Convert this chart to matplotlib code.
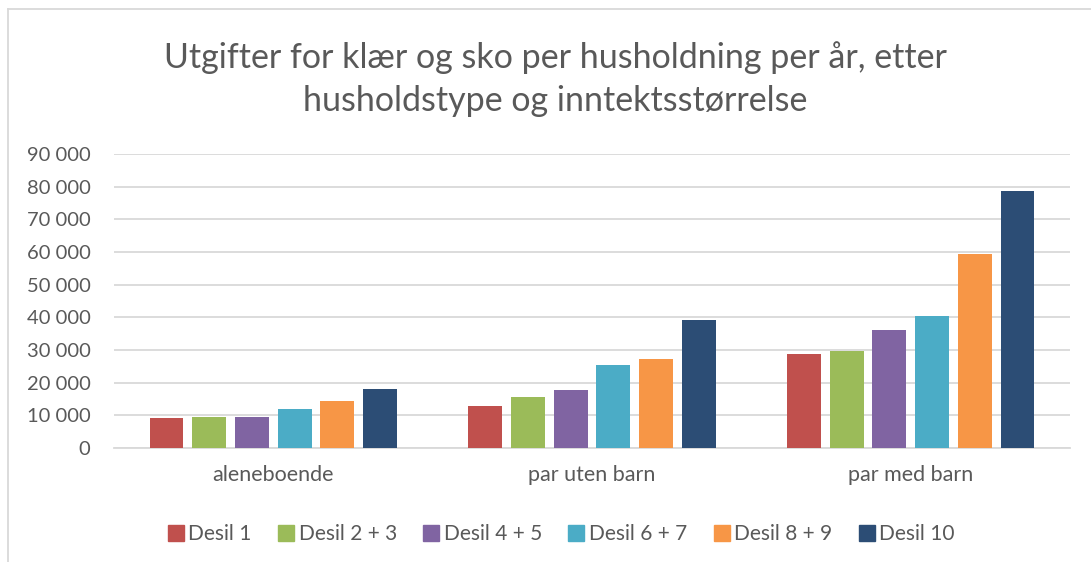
import matplotlib
matplotlib.use("Agg")
import matplotlib.pyplot as plt
from matplotlib.ticker import FuncFormatter
from matplotlib.lines import Line2D
import numpy as np

plt.rcParams['font.family'] = ['Lato', 'DejaVu Sans']

title = "Utgifter for klær og sko per husholdning per år, etter\nhusholdstype og inntektsstørrelse"
categories = ["aleneboende", "par uten barn", "par med barn"]
series_names = ["Desil 1", "Desil 2 + 3", "Desil 4 + 5", "Desil 6 + 7", "Desil 8 + 9", "Desil 10"]
desil_1 = [9100, 13000, 28700]
desil_2_3 = [9500, 15600, 29600]
desil_4_5 = [9500, 17900, 36200]
desil_6_7 = [11800, 25500, 40400]
desil_8_9 = [14300, 27100, 59500]
desil_10 = [18100, 39100, 78600]
yticks = [0, 10000, 20000, 30000, 40000, 50000, 60000, 70000, 80000, 90000]

values = [desil_1, desil_2_3, desil_4_5, desil_6_7, desil_8_9, desil_10]
colors = ["#C0504D", "#9BBB59", "#8064A2", "#4BACC6", "#F79646", "#2C4D75"]
text_color = "#595959"
grid_color = "#D9D9D9"

fig = plt.figure(figsize=(10.91, 5.62), dpi=100)
ax = fig.add_axes([114/1091, 1 - 448/562, 956/1091, (448 - 154)/562])

x = np.arange(len(categories))
step = 0.134
width = 0.106
n = len(values)
for i, (vals, col) in enumerate(zip(values, colors)):
    offs = (i - (n - 1) / 2) * step
    ax.bar(x + offs, vals, width=width, color=col, label=series_names[i], zorder=3)

ax.set_xlim(-0.5, len(categories) - 0.5)
ax.set_ylim(0, 90000)
ax.set_yticks(yticks)
ax.yaxis.set_major_formatter(FuncFormatter(lambda v, p: f"{int(v):,}".replace(",", " ")))
ax.set_xticks(x)
ax.set_xticklabels(categories)
ax.tick_params(axis='both', length=0, colors=text_color)
ax.tick_params(axis='x', pad=12, labelsize=15.5)
ax.tick_params(axis='y', pad=17, labelsize=14.5)
ax.grid(axis='y', color=grid_color, linewidth=1.3, zorder=0)
for s in ["top", "right", "left"]:
    ax.spines[s].set_visible(False)
ax.spines["bottom"].set_color(grid_color)
ax.spines["bottom"].set_linewidth(1.3)

fig.text(555/1091, 1 - 79/562, title, ha='center', va='center', fontsize=24.5,
         color=text_color, linespacing=1.4)

handles = [Line2D([0], [0], marker='s', linestyle='none', markersize=11,
                  markerfacecolor=c, markeredgecolor=c) for c in colors]
fig.legend(handles, series_names, loc='center', bbox_to_anchor=(560/1091, 1 - 534/562),
           ncol=6, frameon=False, fontsize=15, labelcolor=text_color,
           handletextpad=0.1, columnspacing=1.15, handlelength=1.0)

# chart border (top and left visible)
fig.add_artist(Line2D([8/1091, 8/1091], [0, 1 - 9/562], transform=fig.transFigure,
                      color=grid_color, linewidth=1.3))
fig.add_artist(Line2D([8/1091, 1], [1 - 9/562, 1 - 9/562], transform=fig.transFigure,
                      color=grid_color, linewidth=1.3))

fig.savefig("out.png", dpi=100)
